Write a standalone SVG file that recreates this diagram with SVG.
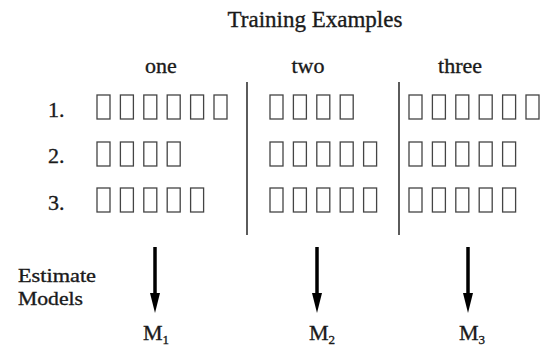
<svg xmlns="http://www.w3.org/2000/svg" width="548" height="347" viewBox="0 0 548 347">
  <style>
    text { font-family: "Liberation Serif", "Times New Roman", serif; fill: #1a1a1a; stroke: #1a1a1a; stroke-width: 0.35; }
    .title { font-size: 23px; }
    .col { font-size: 22px; text-anchor: middle; }
    .row { font-size: 22px; }
    .lbl { font-size: 19px; }
    .m { font-size: 22px; }
    .sub { font-size: 13px; }
    .box { fill: none; stroke: #444; stroke-width: 1.3; }
    .div { stroke: #333; stroke-width: 1.6; }
    .arrow { stroke: #000; stroke-width: 3.5; }
  </style>
  <defs>
    <rect id="b" class="box" width="13" height="24"/>
    <marker id="ah" markerUnits="userSpaceOnUse" markerWidth="22" markerHeight="12" refX="2" refY="6" orient="auto" viewBox="0 0 22 12">
      <path d="M0,1 L20,6 L0,11 Z" fill="#000"/>
    </marker>
  </defs>

  <g id="title">
    <text class="title" x="315" y="27" text-anchor="middle">Training Examples</text>
  </g>

  <g id="headers">
    <text class="col" x="161" y="73">one</text>
    <text class="col" x="308" y="73">two</text>
    <text class="col" x="460" y="73">three</text>
  </g>

  <g id="row-labels">
    <text class="row" x="48" y="117">1.</text>
    <text class="row" x="48" y="163">2.</text>
    <text class="row" x="48" y="210">3.</text>
  </g>

  <g id="dividers">
    <line class="div" x1="247" y1="82" x2="247" y2="235"/>
    <line class="div" x1="399" y1="82" x2="399" y2="235"/>
  </g>

  <g id="set-one">
    <use href="#b" x="97" y="95"/><use href="#b" x="120.4" y="95"/><use href="#b" x="143.8" y="95"/><use href="#b" x="167.2" y="95"/><use href="#b" x="190.6" y="95"/><use href="#b" x="214" y="95"/>
    <use href="#b" x="97" y="142"/><use href="#b" x="120.4" y="142"/><use href="#b" x="143.8" y="142"/><use href="#b" x="167.2" y="142"/>
    <use href="#b" x="97" y="188"/><use href="#b" x="120.4" y="188"/><use href="#b" x="143.8" y="188"/><use href="#b" x="167.2" y="188"/><use href="#b" x="190.6" y="188"/>
  </g>

  <g id="set-two">
    <use href="#b" x="270" y="95"/><use href="#b" x="293.4" y="95"/><use href="#b" x="316.8" y="95"/><use href="#b" x="340.2" y="95"/>
    <use href="#b" x="270" y="142"/><use href="#b" x="293.4" y="142"/><use href="#b" x="316.8" y="142"/><use href="#b" x="340.2" y="142"/><use href="#b" x="363.6" y="142"/>
    <use href="#b" x="270" y="188"/><use href="#b" x="293.4" y="188"/><use href="#b" x="316.8" y="188"/><use href="#b" x="340.2" y="188"/><use href="#b" x="363.6" y="188"/>
  </g>

  <g id="set-three">
    <use href="#b" x="409" y="95"/><use href="#b" x="432.4" y="95"/><use href="#b" x="455.8" y="95"/><use href="#b" x="479.2" y="95"/><use href="#b" x="502.6" y="95"/><use href="#b" x="526" y="95"/>
    <use href="#b" x="409" y="142"/><use href="#b" x="432.4" y="142"/><use href="#b" x="455.8" y="142"/><use href="#b" x="479.2" y="142"/><use href="#b" x="502.6" y="142"/>
    <use href="#b" x="409" y="188"/><use href="#b" x="432.4" y="188"/><use href="#b" x="455.8" y="188"/><use href="#b" x="479.2" y="188"/><use href="#b" x="502.6" y="188"/>
  </g>

  <g id="estimate-label">
    <text class="lbl" x="18" y="282" textLength="78" lengthAdjust="spacingAndGlyphs">Estimate</text>
    <text class="lbl" x="18" y="305" textLength="65" lengthAdjust="spacingAndGlyphs">Models</text>
  </g>

  <g id="connectors">
    <line class="arrow" x1="155" y1="247" x2="155" y2="295" marker-end="url(#ah)"/>
    <line class="arrow" x1="317" y1="247" x2="317" y2="295" marker-end="url(#ah)"/>
    <line class="arrow" x1="468" y1="247" x2="468" y2="295" marker-end="url(#ah)"/>
  </g>

  <g id="M1">
    <text class="m" x="143" y="340">M<tspan class="sub" dy="4">1</tspan></text>
  </g>
  <g id="M2">
    <text class="m" x="309" y="340">M<tspan class="sub" dy="4">2</tspan></text>
  </g>
  <g id="M3">
    <text class="m" x="459" y="340">M<tspan class="sub" dy="4">3</tspan></text>
  </g>
</svg>
